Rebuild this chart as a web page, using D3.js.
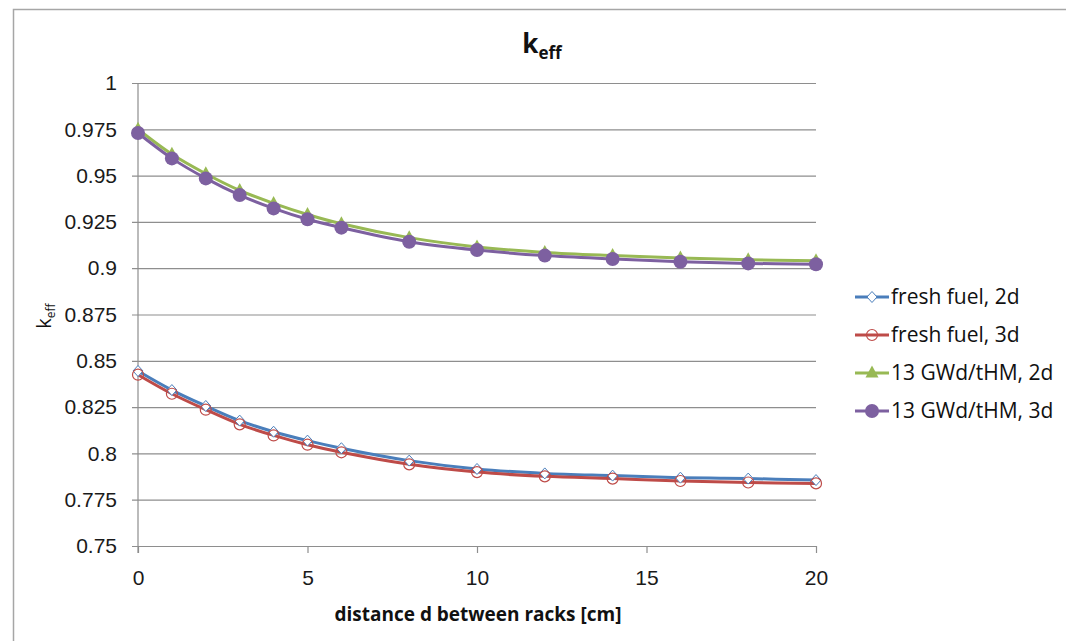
<!DOCTYPE html>
<html>
<head>
<meta charset="utf-8">
<script src="https://cdn.jsdelivr.net/npm/d3@7"></script>
<style>
  body { margin: 0; background: #fff; }
  svg { display: block; font-family: "Open Sans", Lato, sans-serif; }
</style>
</head>
<body>
<svg width="1066" height="641"></svg>
<script>
// distances d [cm]
var distances = [0, 1, 2, 3, 4, 5, 6, 8, 10, 12, 14, 16, 18, 20];

var fresh2d = [0.8445, 0.8342, 0.8256, 0.8177, 0.8117, 0.8069, 0.8028, 0.7961, 0.7916, 0.7892, 0.7880, 0.7869, 0.7864, 0.7856];
var fresh3d = [0.8425, 0.8322, 0.8236, 0.8157, 0.8097, 0.8047, 0.8006, 0.7941, 0.7899, 0.7876, 0.7864, 0.7851, 0.7843, 0.7838];
var burnt2d = [0.9750, 0.9615, 0.9510, 0.9420, 0.9350, 0.9290, 0.9240, 0.9165, 0.9115, 0.9085, 0.9068, 0.9055, 0.9045, 0.9040];
var burnt3d = [0.9730, 0.9593, 0.9485, 0.9395, 0.9323, 0.9264, 0.9219, 0.9143, 0.9098, 0.9068, 0.9050, 0.9035, 0.9026, 0.9021];

var xTicks = [0, 5, 10, 15, 20];
var yTicks = [0.75, 0.775, 0.8, 0.825, 0.85, 0.875, 0.9, 0.925, 0.95, 0.975, 1];

var series = [
  { name: "fresh fuel, 2d",   values: fresh2d, color: "#4a7ebb", marker: "diamond" },
  { name: "fresh fuel, 3d",   values: fresh3d, color: "#be4b48", marker: "ring" },
  { name: "13 GWd/tHM, 2d",   values: burnt2d, color: "#98b954", marker: "triangle" },
  { name: "13 GWd/tHM, 3d",   values: burnt3d, color: "#7d60a0", marker: "dot" }
];

var svg = d3.select("svg");

// chart area border (only left/top visible in frame)
svg.append("rect")
    .attr("x", 13.5).attr("y", 9.5)
    .attr("width", 1100).attr("height", 700)
    .attr("fill", "none")
    .attr("stroke", "#a6a6a6")
    .attr("stroke-width", 1.5);

var plotLeft = 138, plotTop = 83, plotW = 678, plotH = 463;

var g = svg.append("g")
    .attr("transform", "translate(" + plotLeft + "," + plotTop + ")");

var scaleX = d3.scaleLinear().domain([0, 20]).range([0, plotW]);
var scaleY = d3.scaleLinear().domain([0.75, 1]).range([plotH, 0]);

// horizontal gridlines + y tick labels
var yAxis = g.append("g")
    .attr("transform", "translate(-6,0)")
    .call(d3.axisLeft(scaleY)
      .tickValues(yTicks)
      .tickSize(-(plotW + 6))
      .tickPadding(15)
      .tickFormat(function(d) { return String(+d.toFixed(3)); }));
yAxis.select(".domain").remove();
yAxis.selectAll("line").attr("stroke", "#8e8e8e").attr("stroke-width", 1.2);
yAxis.selectAll("text").attr("font-size", 21).attr("fill", "#1a1a1a");

// x axis ticks + labels
var xAxis = g.append("g")
    .attr("transform", "translate(0," + plotH + ")")
    .call(d3.axisBottom(scaleX)
      .tickValues(xTicks)
      .tickSize(7)
      .tickSizeOuter(0)
      .tickPadding(17));
xAxis.select(".domain").remove();
xAxis.selectAll("line").attr("stroke", "#8e8e8e").attr("stroke-width", 1.2);
xAxis.selectAll("text").attr("font-size", 21).attr("fill", "#1a1a1a");

// vertical axis line
g.append("line")
    .attr("x1", 0).attr("x2", 0)
    .attr("y1", 0).attr("y2", plotH + 7)
    .attr("stroke", "#8e8e8e")
    .attr("stroke-width", 1.2);

var line = d3.line()
    .x(function(d, i) { return scaleX(distances[i]); })
    .y(function(d) { return scaleY(d); })
    .curve(d3.curveCatmullRom.alpha(0.5));

function drawMarker(sel, type, color) {
  if (type === "diamond") {
    sel.append("path").attr("d", "M0,-5.5L5,0L0,5.5L-5,0Z")
      .attr("fill", "#fff").attr("stroke", color).attr("stroke-width", 1);
  } else if (type === "ring") {
    sel.append("circle").attr("r", 5.5)
      .attr("fill", "none").attr("stroke", color).attr("stroke-width", 1.2);
  } else if (type === "triangle") {
    sel.append("path").attr("d", "M0,-7.5L6.5,4.5L-6.5,4.5Z")
      .attr("fill", color);
  } else {
    sel.append("circle").attr("r", 7).attr("fill", color);
  }
}

series.forEach(function(s) {
  g.append("path")
      .attr("d", line(s.values))
      .attr("fill", "none")
      .attr("stroke", s.color)
      .attr("stroke-width", 3);
});

series.forEach(function(s) {
  s.values.forEach(function(v, i) {
    var m = g.append("g")
        .attr("transform", "translate(" + scaleX(distances[i]) + "," + scaleY(v) + ")");
    drawMarker(m, s.marker, s.color);
  });
});

// title
var title = svg.append("text")
    .attr("x", 542).attr("y", 53)
    .attr("text-anchor", "middle")
    .attr("font-weight", "bold")
    .attr("font-size", 26)
    .attr("fill", "#111");
title.append("tspan").text("k");
title.append("tspan").attr("font-size", 17).attr("dy", 6).text("eff");

// y axis label
var yl = svg.append("text")
    .attr("transform", "translate(51,316) rotate(-90)")
    .attr("text-anchor", "middle")
    .attr("font-size", 20)
    .attr("fill", "#111");
yl.append("tspan").text("k");
yl.append("tspan").attr("font-size", 12).attr("dy", 4).text("eff");

// x axis label
svg.append("text")
    .attr("x", 478).attr("y", 621)
    .attr("text-anchor", "middle")
    .attr("font-weight", "bold")
    .attr("font-size", 19)
    .attr("fill", "#111")
    .text("distance d between racks [cm]");

// legend
var legend = svg.append("g");
series.forEach(function(s, i) {
  var ly = 297 + i * 38;
  legend.append("line")
      .attr("x1", 855).attr("x2", 889)
      .attr("y1", ly).attr("y2", ly)
      .attr("stroke", s.color).attr("stroke-width", 3);
  var m = legend.append("g").attr("transform", "translate(872," + ly + ")");
  drawMarker(m, s.marker, s.color);
  legend.append("text")
      .attr("x", 891).attr("y", ly)
      .attr("dy", "0.35em")
      .attr("font-size", 21)
      .attr("fill", "#111")
      .text(s.name);
});
</script>
</body>
</html>
